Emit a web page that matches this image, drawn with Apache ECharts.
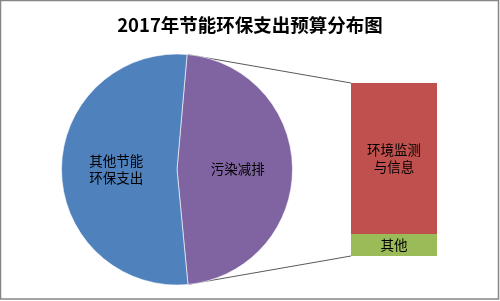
<!DOCTYPE html>
<html><head><meta charset="utf-8">
<script src="https://cdn.jsdelivr.net/npm/echarts@6/dist/echarts.min.js"></script>
<style>html,body{margin:0;padding:0;background:#fff}#c{width:500px;height:301px}</style>
</head><body><div id="c"></div>
<script>
const titleText = '2017年节能环保支出预算分布图';
const pieNames = ['污染减排', '其他节能\n环保支出'];
const pieValues = [47.1, 52.9];
const pieColors = ['#8064A2', '#4F81BD'];
const barNames = ['其他', '环境监测\n与信息'];
const barValues = [6.0, 41.1];
const barColors = ['#9BBB59', '#C0504D'];

const cx = 177, cy = 169.5, R = 115.5, startAngle = 85;
const grid = {left: 351, top: 83, width: 86, height: 173};

const total = pieValues.reduce((a,b)=>a+b,0);
const barTotal = barValues.reduce((a,b)=>a+b,0);
const a1 = startAngle * Math.PI/180;
const a2 = (startAngle - 360*pieValues[0]/total) * Math.PI/180;
const p1 = [cx + R*Math.cos(a1), cy - R*Math.sin(a1)];
const p2 = [cx + R*Math.cos(a2), cy - R*Math.sin(a2)];

const chart = echarts.init(document.getElementById('c'), null, {renderer:'canvas'});
const font = '"Noto Sans CJK SC", "Microsoft YaHei", sans-serif';
const barSeries = barValues.map((v,i)=>({
  type:'bar', stack:'s', name: barNames[i], data:[v], barWidth:'100%',
  itemStyle:{color: barColors[i]},
  label:{show:true, position:'inside', formatter: barNames[i], color:'#000', fontSize:13.5, lineHeight:17, fontFamily:font},
  silent:true, animation:false
}));
chart.setOption({
  animation:false,
  title:{text:titleText, left:'center', top:11, textStyle:{fontSize:18.5, fontWeight:'bold', color:'#000', fontFamily:'"Noto Sans CJK SC", sans-serif'}},
  grid: grid,
  xAxis:{type:'category', data:['x'], show:false},
  yAxis:{type:'value', min:0, max:barTotal, show:false},
  graphic:[
    {type:'rect', shape:{x:0.5,y:0.5,width:498,height:298.5}, style:{fill:'none', stroke:'#868686', lineWidth:1.5}, z:100},
    {type:'line', shape:{x1:p1[0], y1:p1[1], x2:grid.left, y2:grid.top}, style:{stroke:'#595959', lineWidth:1}},
    {type:'line', shape:{x1:p2[0], y1:p2[1], x2:grid.left, y2:grid.top+grid.height}, style:{stroke:'#595959', lineWidth:1}}
  ],
  series:[
    {type:'pie', center:[cx,cy], radius:[0,R], startAngle:startAngle, clockwise:true,
     data: pieValues.map((v,i)=>({value:v, name:pieNames[i], itemStyle:{color:pieColors[i]}})),
     itemStyle:{borderColor:'#fff', borderWidth:0.6},
     label:{show:true, position:'inside', formatter:'{b}', color:'#000', fontSize:13.5, lineHeight:17, fontFamily:font},
     labelLine:{show:false}, silent:true, animation:false}
  ].concat(barSeries)
});
</script></body></html>
